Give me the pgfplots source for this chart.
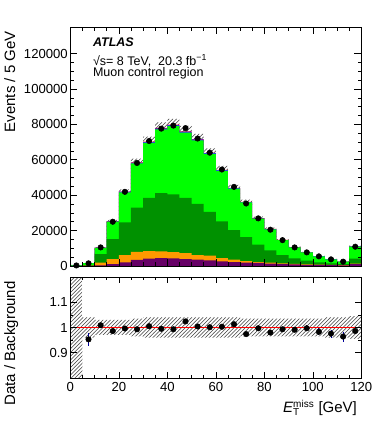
\documentclass[border=0pt]{standalone}
\usepackage{fontspec}
\setmainfont{Liberation Sans}
\usepackage{pgfplots}
\usepackage{pgfplotstable}
\pgfplotsset{compat=1.18}
\usetikzlibrary{patterns}

\definecolor{lgreen}{RGB}{0,255,0}
\definecolor{dgreen}{RGB}{0,145,0}
\definecolor{orng}{RGB}{255,153,0}
\definecolor{purp}{RGB}{102,0,102}
\definecolor{topblue}{RGB}{51,51,255}

% cumulative stack (bottom to top), hi = total MC + syst
\pgfplotstableread{
edge P    O    D     L     B     T     hi
0    0    0    50    317   319   320   640
5    100  250  500   1559  1570  1575  1638
10   400  1900 6760  10296 10369 10400 10712
15   1100 3900 15200 25097 25274 25350 26111
20   2100 6200 24600 41649 41944 42070 43332
25   3400 8000 33000 58014 58424 58600 60651
30   4100 8450 38500 69548 70039 70250 73060
35   4500 8300 41100 77220 77766 78000 81120
40   4300 7900 40400 79061 79620 79860 83054
45   3900 7300 38500 75309 75842 76070 79113
50   3600 6200 35100 70983 71485 71700 74568
55   3200 5800 30600 63301 63748 63940 66498
60   2600 4500 25200 53797 54177 54340 56514
65   2250 3600 20300 43689 43998 44130 45895
70   1900 2800 16300 35878 36131 36240 37508
75   1700 2250 12100 26710 26899 26980 27924
80   1300 1900 8800  20711 20857 20920 21652
85   1100 1500 6200  14553 14656 14700 15215
90   900  1200 4300  10494 10568 10600 10971
95   700  950  3000  7643  7697  7720  7990
100  600  800  2100  5485  5523  5540  5734
105  500  650  1500  3802  3828  3840  3994
110  400  550  1100  2515  2532  2540  2642
115  1000 1300 4100  10940 11017 11050 11547
120  1000 1300 4100  10940 11017 11050 11547
}\stacktab

\pgfplotstableread{
c     n
2.5   300
7.5   1500
12.5  10500
17.5  25000
22.5  41900
27.5  58200
32.5  70600
37.5  77600
42.5  79300
47.5  77900
52.5  72000
57.5  64000
62.5  54500
67.5  44700
72.5  35300
77.5  26900
82.5  20500
87.5  14600
92.5  10500
97.5  7700
102.5 5450
107.5 3750
112.5 2450
117.5 10900
}\datatab

\pgfplotstableread{
c     r     e
7.5   0.953 0.026
12.5  1.009 0.010
17.5  0.986 0.006
22.5  0.996 0.005
27.5  0.993 0.004
32.5  1.005 0.004
37.5  0.995 0.004
42.5  0.993 0.004
47.5  1.024 0.004
52.5  1.004 0.004
57.5  1.001 0.004
62.5  1.003 0.004
67.5  1.013 0.005
72.5  0.974 0.005
77.5  0.997 0.006
82.5  0.980 0.007
87.5  0.993 0.008
92.5  0.991 0.010
97.5  0.997 0.011
102.5 0.983 0.014
107.5 0.976 0.016
112.5 0.964 0.020
117.5 0.986 0.010
}\ratiotab

\pgfplotstableread{
edge hi    lo
0    1.3   0.7
5    1.04  0.96
10   1.03  0.97
15   1.03  0.97
20   1.03  0.97
25   1.035 0.965
30   1.04  0.96
35   1.04  0.96
40   1.04  0.96
45   1.04  0.96
50   1.04  0.96
55   1.04  0.96
60   1.04  0.96
65   1.04  0.96
70   1.035 0.965
75   1.035 0.965
80   1.035 0.965
85   1.035 0.965
90   1.035 0.965
95   1.035 0.965
100  1.035 0.965
105  1.04  0.96
110  1.04  0.96
115  1.045 0.955
120  1.045 0.955
}\bandtab

\pgfplotsset{
  atlas/.style={
    scale only axis, width=232.8pt,
    xmin=0, xmax=120,
    axis on top, tick align=inside,
    axis line style={line width=0.6pt},
    every tick/.style={black, line width=0.5pt},
    xtick={0,20,40,60,80,100,120}, minor x tick num=3,
    scaled x ticks=false, scaled y ticks=false,
    tick label style={font=\fontsize{10.5}{12}\selectfont},
    label style={font=\fontsize{12}{14}\selectfont},
    yticklabel style={xshift=1.5pt},
  },
  hist/.style={const plot, draw=none, forget plot},
}

\begin{document}
\begin{tikzpicture}
\begin{axis}[atlas,
    at={(0,0)}, anchor=south west,
    height=191.2pt,
    ymin=0, ymax=135000,
    ytick={0,20000,40000,60000,80000,100000,120000},
    yticklabels={0,20000,40000,60000,80000,100000,120000},
    minor y tick num=3,
    xticklabels={},
    major tick length=5.5pt, minor tick length=3pt,
    ylabel={Events / 5 GeV},
    ylabel style={at={(axis description cs:-0.19,1)}, anchor=base east},
]
\addplot[hist, pattern=north east lines, pattern color=black!75] table[x=edge, y=hi] {\stacktab} \closedcycle;
\addplot[hist, fill=red] table[x=edge, y=T] {\stacktab} \closedcycle;
\addplot[hist, fill=topblue] table[x=edge, y=B] {\stacktab} \closedcycle;
\addplot[hist, fill=lgreen] table[x=edge, y=L] {\stacktab} \closedcycle;
\addplot[hist, fill=dgreen] table[x=edge, y=D] {\stacktab} \closedcycle;
\addplot[hist, fill=orng] table[x=edge, y=O] {\stacktab} \closedcycle;
\addplot[hist, fill=purp] table[x=edge, y=P] {\stacktab} \closedcycle;

\addplot[only marks, mark=*, mark size=2.2pt, black] table[x=c, y=n] {\datatab};

\node[anchor=base west, font=\bfseries\itshape] at (rel axis cs:0.063,0.9176) {ATLAS};
\node[anchor=base west] at (rel axis cs:0.063,0.841) {√s= 8 TeV,~ 20.3 fb\textsuperscript{−1}};
\node[anchor=base west] at (rel axis cs:0.063,0.791) {Muon control region};
\end{axis}

\begin{axis}[atlas,
    at={(0,-8.8pt)}, anchor=north west,
    height=80.8pt,
    ymin=0.8, ymax=1.2,
    ytick={0.9,1,1.1}, yticklabels={0.9,1,1.1},
    minor y tick num=1,
    xticklabels={0,20,40,60,80,100,120},
    major tick length=5pt, minor tick length=2.5pt,
    xlabel={\textit{E}\rlap{\textsubscript{T}}\textsuperscript{miss} [GeV]},
    xlabel style={at={(axis description cs:1,-0.3465)}, anchor=base east},
    ylabel={Data / Background},
    ylabel style={at={(axis description cs:-0.19,1)}, anchor=base east},
]
\addplot[hist, pattern=north east lines, pattern color=black!75] table[x=edge, y=hi] {\bandtab} \closedcycle;
\addplot[hist, fill=white] table[x=edge, y=lo] {\bandtab} \closedcycle;

\addplot[red, line width=0.8pt] coordinates {(0,1) (120,1)};

\addplot[only marks, mark=*, mark size=2.2pt, black,
    error bars/.cd, y dir=both, y explicit,
    error bar style={blue!60!black, line width=0.8pt}, error mark=none]
    table[x=c, y=r, y error=e] {\ratiotab};
\end{axis}
\path (-55.2pt,-125.6pt) rectangle (244pt,212.8pt);
\end{tikzpicture}
\end{document}
